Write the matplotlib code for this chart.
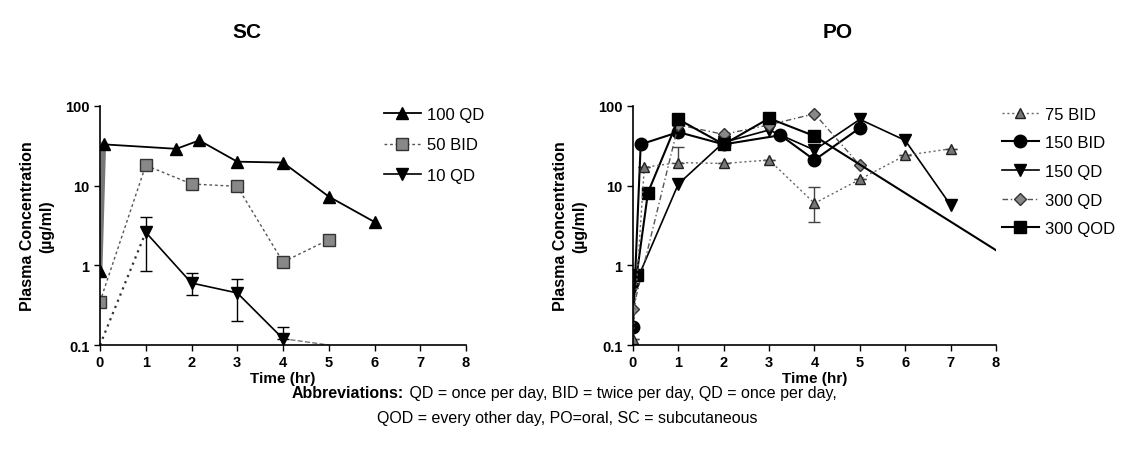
import numpy as np
import matplotlib.pyplot as plt
from matplotlib.ticker import FixedLocator, FixedFormatter, NullLocator

plt.rcParams['font.family'] = ['Liberation Sans', 'DejaVu Sans']

# SC data
sc_100qd_t = [0, 0.08, 1.67, 2.17, 3, 4, 5, 6]
sc_100qd_v = [0.85, 33, 29, 37, 20, 19.5, 7.3, 3.5]

sc_50bid_t = [0, 1, 2, 3, 4, 5]
sc_50bid_v = [0.35, 18, 10.5, 9.8, 1.1, 2.1]

sc_10qd_t = [0, 1, 2, 3, 4, 5]
sc_10qd_v = [0.1, 2.6, 0.6, 0.45, 0.12, 0.1]
sc_10qd_lo = [0, 1.75, 0.18, 0.25, 0.0, 0]
sc_10qd_hi = [0, 1.5, 0.19, 0.22, 0.05, 0]

# PO data
po_75bid_t = [0, 0.25, 1, 2, 3, 4, 5, 6, 7]
po_75bid_v = [0.12, 17, 19.5, 19, 21, 6.0, 12, 24, 29]
po_75bid_lo = [0, 0, 0, 0, 0, 2.5, 0, 0, 0]
po_75bid_hi = [0, 0, 11, 0, 0, 3.7, 0, 0, 0]

po_150bid_t = [0, 0.17, 1, 2, 3.25, 4, 5]
po_150bid_v = [0.17, 33, 47, 33, 43, 21, 53]

po_150qd_t = [0, 1, 2, 3, 4, 5, 6, 7]
po_150qd_v = [0.5, 10.5, 35, 50, 28, 68, 37, 5.7]

po_300qd_t = [0, 1, 2, 3, 4, 5]
po_300qd_v = [0.28, 58, 44, 58, 80, 18]

po_300qod_t = [0.08, 0.33, 1, 2, 3, 4, 8]
po_300qod_v = [0.75, 8.2, 68, 33, 70, 42, 1.55]

fig = plt.figure(figsize=(11.35, 4.64), dpi=100)
ax1 = fig.add_axes([0.0881, 0.2543, 0.3225, 0.5151])
ax2 = fig.add_axes([0.5577, 0.2543, 0.3198, 0.5151])


def style_axis(ax):
    ax.set_yscale('log')
    ax.set_xlim(0, 8)
    ax.set_ylim(0.1, 100)
    ax.set_xticks(range(9))
    ax.yaxis.set_major_locator(FixedLocator([0.1, 1, 10, 100]))
    ax.yaxis.set_major_formatter(FixedFormatter(['0.1', '1', '10', '100']))
    ax.yaxis.set_minor_locator(NullLocator())
    ax.spines['top'].set_visible(False)
    ax.spines['right'].set_visible(False)
    ax.spines['left'].set_linewidth(1.2)
    ax.spines['bottom'].set_linewidth(1.2)
    ax.tick_params(direction='out', length=4, width=1, labelsize=10.5)
    for lab in ax.get_xticklabels() + ax.get_yticklabels():
        lab.set_fontweight('bold')
    ax.set_xlabel('Time (hr)', fontsize=11, fontweight='bold', labelpad=1)
    ax.set_ylabel('Plasma Concentration\n(\u00b5g/ml)', fontsize=11.5,
                  fontweight='bold', labelpad=8, linespacing=1.3)


# SC panel
ax1.plot(sc_100qd_t[:2], sc_100qd_v[:2], color='#777777', lw=3.5, zorder=2)
ax1.plot(sc_100qd_t[1:], sc_100qd_v[1:], color='black', lw=1.3, zorder=2)
ax1.plot(sc_100qd_t, sc_100qd_v, ls='none', marker='^', ms=8, color='black',
         zorder=3)
ax1.plot([], [], color='black', lw=1.3, marker='^', ms=8, label='100 QD')

ax1.plot(sc_50bid_t, sc_50bid_v, color='#555555', lw=1, ls=(0, (2, 2)),
         marker='s', ms=8, mfc='#888888', mec='#333333', label='50 BID')

ax1.plot(sc_10qd_t[:2], sc_10qd_v[:2], color='#333333', lw=1.6, ls=(0, (1, 2)))
ax1.plot(sc_10qd_t[1:5], sc_10qd_v[1:5], color='black', lw=1.2)
ax1.plot(sc_10qd_t[4:], sc_10qd_v[4:], color='#777777', lw=1, ls='--')
ax1.errorbar(sc_10qd_t[1:5], sc_10qd_v[1:5],
             yerr=[sc_10qd_lo[1:5], sc_10qd_hi[1:5]], ls='none', marker='v',
             ms=8, color='black', ecolor='black', elinewidth=1, capsize=4)
ax1.plot([], [], color='black', lw=1.2, marker='v', ms=8, label='10 QD')

style_axis(ax1)
ax1.legend(loc='upper left', bbox_to_anchor=(0.735, 1.06), frameon=False,
           fontsize=12, handlelength=2.2, handletextpad=0.4,
           labelspacing=0.95)

# PO panel
ax2.errorbar(po_75bid_t, po_75bid_v, yerr=[po_75bid_lo, po_75bid_hi],
             color='#666666', lw=1, ls=(0, (1.5, 2)), marker='^', ms=7,
             mfc='#777777', mec='#222222', ecolor='#444444', capsize=4)
ax2.plot([], [], color='#666666', lw=1, ls=(0, (1.5, 2)), marker='^', ms=7,
         mfc='#777777', mec='#222222', label='75 BID')
ax2.plot(po_150bid_t, po_150bid_v, color='black', lw=1.5, marker='o', ms=9,
         label='150 BID')
ax2.plot(po_150qd_t, po_150qd_v, color='black', lw=1.2, marker='v', ms=8,
         label='150 QD')
ax2.plot(po_300qd_t, po_300qd_v, color='#555555', lw=1, ls=(0, (4, 2, 1, 2)),
         marker='D', ms=6, mfc='#888888', mec='#333333', label='300 QD')
ax2.plot(po_300qod_t, po_300qod_v, color='black', lw=1.5, marker='s', ms=9,
         markevery=list(range(len(po_300qod_t) - 1)), label='300 QOD')

style_axis(ax2)
ax2.legend(loc='upper left', bbox_to_anchor=(0.975, 1.06), frameon=False,
           fontsize=12, handlelength=2.2, handletextpad=0.4,
           labelspacing=0.82)

fig.text(0.218, 0.93, 'SC', ha='center', va='center', fontsize=15,
         fontweight='bold')
fig.text(0.738, 0.93, 'PO', ha='center', va='center', fontsize=15,
         fontweight='bold')

fig.text(0.356, 0.153, 'Abbreviations:', ha='right', va='center',
         fontsize=11.5, fontweight='bold')
fig.text(0.357, 0.153,
         ' QD = once per day, BID = twice per day, QD = once per day,',
         ha='left', va='center', fontsize=11.5)
fig.text(0.5, 0.098, 'QOD = every other day, PO=oral, SC = subcutaneous',
         ha='center', va='center', fontsize=11.5)

fig.savefig('out.png', dpi=100)
